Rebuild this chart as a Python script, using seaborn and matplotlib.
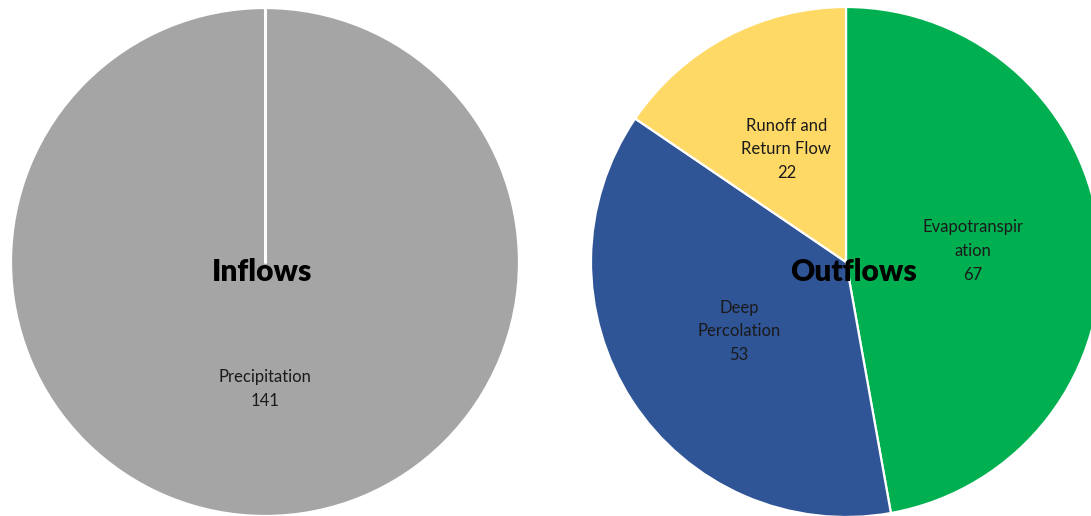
import seaborn as sns
import matplotlib.pyplot as plt

sns.set_theme(style='white')
plt.rcParams['font.family'] = ['Lato', 'DejaVu Sans']

# data
inflow_labels = ['Precipitation']
inflow_values = [141]
inflow_colors = ['#A5A5A5']

outflow_labels = ['Evapotranspir\nation', 'Deep\nPercolation', 'Runoff and\nReturn Flow']
outflow_values = [67, 53, 22]
outflow_colors = ['#00B050', '#2F5597', '#FFD966']

W, H = 1091, 516
fig = plt.figure(figsize=(W / 100, H / 100), dpi=100)
fig.patch.set_facecolor('white')


def pie_axes(cx, cy, r):
    # cx, cy, r in pixels (y from top)
    return fig.add_axes([(cx - r) / W, (H - cy - r) / H, 2 * r / W, 2 * r / H])


def draw(ax, labels, values, colors, title, tx):
    txt = [f'{l}\n{v}' for l, v in zip(labels, values)]
    wedges, texts = ax.pie(values, labels=txt, colors=colors, startangle=90,
                           counterclock=False, labeldistance=0.5, radius=1,
                           wedgeprops=dict(edgecolor='white', linewidth=1.6),
                           textprops=dict(fontsize=12, color='#1a1a1a',
                                          ha='center', va='center', linespacing=1.6))
    ax.text(tx, -0.04, title, ha='center', va='center', fontsize=21.5,
            fontweight='heavy', color='black')
    ax.set_xlim(-1, 1)
    ax.set_ylim(-1, 1)
    ax.set_aspect('equal')
    ax.axis('off')
    return wedges


ax1 = pie_axes(265, 262, 254)
draw(ax1, inflow_labels, inflow_values, inflow_colors, 'Inflows', -0.01)
# a single full wedge has no radial edge, so draw the slice border
ax1.plot([0, 0], [0, 1], color='white', lw=2.2, zorder=1.5)

ax2 = pie_axes(846, 262, 255)
draw(ax2, outflow_labels, outflow_values, outflow_colors, 'Outflows', 0.03)

plt.savefig('out.png', dpi=100, facecolor='white')
